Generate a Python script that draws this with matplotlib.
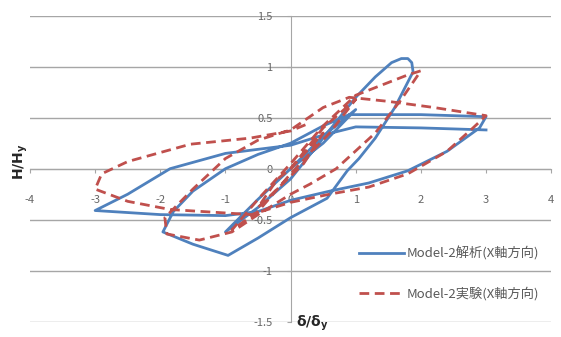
import numpy as np
import matplotlib
matplotlib.use('Agg')
import matplotlib.pyplot as plt

plt.rcParams['font.family'] = ['Noto Sans CJK JP', 'DejaVu Sans']

# hysteresis loops (delta/delta_y, H/H_y)
ana_x = [0, 0.5, 1.0, 0.5, 0.0, -0.5, -1.0, -0.5, 0.0, 0.5, 1.0, 1.3, 1.55, 1.7, 1.8, 1.86, 1.88,
         1.6, 1.3, 1.05, 0.87, 0.56, 0.0, -0.5, -0.96, -1.5, -1.96,
         -1.8, -1.5, -1.0, -0.5, 0.0, 0.5, 0.9, 2.0, 3.0,
         2.9, 2.4, 1.8, 1.2, 0.6, 0.0, -0.5, -1.0, -2.0, -3.0,
         -2.5, -1.85, -1.0, 0.0, 0.5, 1.0, 2.0, 3.0]
ana_y = [0, 0.32, 0.58, 0.25, 0.0, -0.3, -0.62, -0.38, -0.1, 0.3, 0.7, 0.9, 1.04, 1.08, 1.08, 1.04, 0.95,
         0.6, 0.3, 0.1, -0.02, -0.29, -0.48, -0.68, -0.85, -0.74, -0.62,
         -0.42, -0.22, 0.0, 0.14, 0.25, 0.42, 0.53, 0.53, 0.51,
         0.4, 0.17, -0.02, -0.14, -0.22, -0.31, -0.42, -0.46, -0.45, -0.41,
         -0.25, 0.0, 0.15, 0.23, 0.33, 0.41, 0.4, 0.38]

exp_x = [0, 0.5, 0.2, -0.5, -0.2, 0.0, 0.5, 1.0, 0.6, 0.0, -0.5, -0.9, -0.5, 0.0, 0.5, 1.0,
         1.4, 1.8, 2.0, 1.7, 1.3, 0.7, 0.3, 0.0, -0.5, -0.9, -1.4, -1.9, -1.93,
         -1.5, -1.0, -0.5, 0.0, 0.5, 0.9,
         1.5, 2.2, 3.0, 2.8, 2.4, 1.8, 1.2, 0.6, 0.0, -0.6, -1.85, -2.5, -3.0,
         -2.9, -2.5, -1.54, -0.62, 0.0, 0.3]
exp_y = [0, 0.35, 0.05, -0.38, -0.1, 0.0, 0.4, 0.68, 0.35, -0.05, -0.42, -0.6, -0.3, 0.05, 0.42, 0.72,
         0.82, 0.92, 0.96, 0.68, 0.35, 0.0, -0.15, -0.25, -0.45, -0.62, -0.7, -0.64, -0.48,
         -0.2, 0.1, 0.28, 0.38, 0.6, 0.7,
         0.66, 0.6, 0.52, 0.4, 0.17, -0.05, -0.18, -0.25, -0.33, -0.45, -0.4, -0.32, -0.2,
         -0.05, 0.07, 0.24, 0.3, 0.37, 0.45]

labels = ['Model-2解析(X軸方向)', 'Model-2実験(X軸方向)']
xticks = [-4, -3, -2, -1, 0, 1, 2, 3, 4]
yticks = [-1.5, -1, -0.5, 0, 0.5, 1, 1.5]

fig = plt.figure(figsize=(5.61, 3.37), dpi=100)
ax = fig.add_axes([0.0535, 0.0454, 0.929, 0.908])

ax.plot(ana_x, ana_y, color='#4F81BD', lw=2, label=labels[0], zorder=3)
ax.plot(exp_x, exp_y, color='#C0504D', lw=2, ls=(0, (3.5, 2)), label=labels[1], zorder=4)

ax.set_xlim(-4, 4)
ax.set_ylim(-1.5, 1.5)
ax.set_xticks(xticks)
ax.set_yticks(yticks)
ax.set_xticklabels([str(t) for t in xticks])
ax.set_yticklabels(['-1.5', '-1', '-0.5', '0', '0.5', '1', '1.5'])
ax.grid(axis='y', color='#a6a6a6', lw=1)
ax.set_axisbelow(True)

for s in ['top', 'right']:
    ax.spines[s].set_visible(False)
ax.spines['left'].set_position(('data', 0))
ax.spines['bottom'].set_position(('data', 0))
ax.spines['left'].set_color('#a6a6a6')
ax.spines['bottom'].set_color('#a6a6a6')
ax.tick_params(axis='x', direction='out', length=3, color='#a6a6a6', pad=16, labelsize=8, labelcolor='#666666')
ax.tick_params(axis='y', direction='out', length=3, color='#a6a6a6', pad=10, labelsize=8, labelcolor='#666666')

leg = ax.legend(loc='lower right', bbox_to_anchor=(1.0, 0.03), frameon=False, fontsize=9.5,
                labelspacing=2.0, handlelength=3.4, handletextpad=0.2)
for t in leg.get_texts():
    t.set_color('#595959')

fig.text(0.527, 0.012, r'δ/δ$_\mathregular{y}$', fontsize=10, fontweight='bold', color='#262626',
         family='DejaVu Sans', va='bottom')
fig.text(0.038, 0.52, r'H/H$_\mathregular{y}$', fontsize=10, fontweight='bold', color='#262626',
         rotation=90, va='center', ha='center', family='DejaVu Sans')

fig.savefig('out.png', dpi=100)
